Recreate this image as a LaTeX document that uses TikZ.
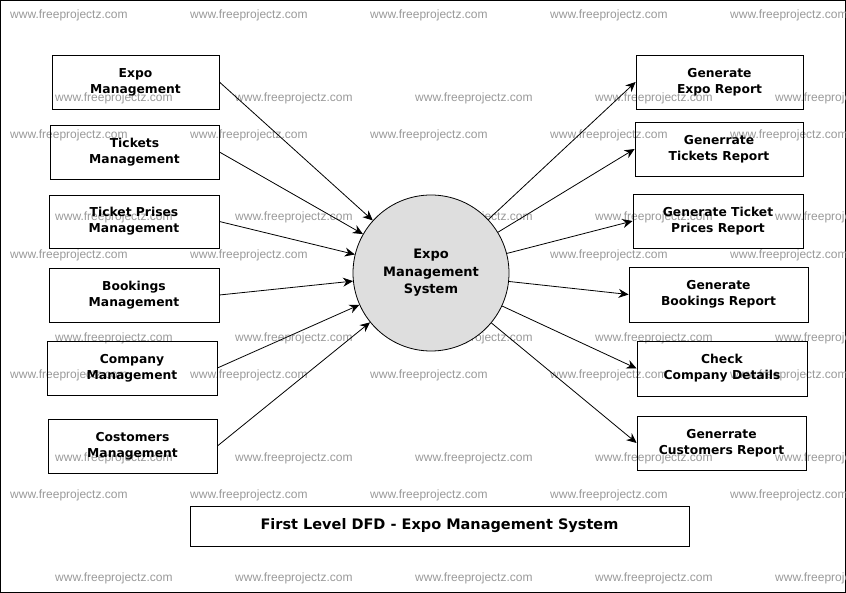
\documentclass[tikz,border=0pt]{standalone}
\usepackage{fontspec}
\usetikzlibrary{arrows.meta}
\setmainfont{DejaVu Sans}
\newfontfamily\wmfont{Liberation Sans}
\begin{document}
\begin{tikzpicture}[x=1pt,y=-1pt,
  box/.style={draw,thick,inner sep=0pt,align=center,font=\bfseries\fontsize{12.3}{16}\selectfont},
  arr/.style={draw,thick,-{Stealth[length=10pt,width=9pt]}},
  wm/.style={anchor=west,text=black!40,font=\wmfont\fontsize{12}{14}\selectfont,inner sep=0pt}]
\draw[thick] (0.5,0.5) rectangle (845.5,592.5);
\useasboundingbox (0,0) rectangle (846,593);
% watermarks
\foreach \y [count=\i] in {15,98,135,217,255,338,375,458,495,578}{
  \pgfmathsetmacro{\off}{mod(\i,2)==1 ? 10 : 55}
  \foreach \k in {0,1,2,3,4}{
    \node[wm] at ({\off+180*\k},\y) {www.freeprojectz.com};
  }
}
\newcommand{\bx}[6]{\node[box,minimum width={#4-#2},minimum height={#5-#3}] (#1) at ({(#2+#4)/2},{(#3+#5)/2}) {#6};}
\bx{l1}{52}{55}{219}{109}{Expo\\Management}
\bx{l2}{50}{125}{219}{179}{Tickets\\Management}
\bx{l3}{49}{195}{219}{248}{Ticket Prises\\Management}
\bx{l4}{49}{268}{219}{322}{Bookings\\Management}
\bx{l5}{47}{341}{217}{395}{Company\\Management}
\bx{l6}{48}{419}{217}{473}{Costomers\\Management}
\bx{r1}{636}{55}{803}{109}{Generate\\Expo Report}
\bx{r2}{635}{122}{803}{176}{Generrate\\Tickets Report}
\bx{r3}{633}{194}{803}{248}{Generate Ticket\\Prices Report}
\bx{r4}{629}{267}{808}{322}{Generate\\Bookings Report}
\bx{r5}{637}{341}{807}{396}{Check\\Company Details}
\bx{r6}{637}{416}{806}{470}{Generrate\\Customers Report}
\bx{t}{190}{506}{689}{546}{\fontsize{14.5}{17}\selectfont First Level DFD - Expo Management System}
\node[circle,draw,thick,fill=black!13,minimum size=156pt,align=center,
  font=\bfseries\fontsize{13}{17.5}\selectfont] (c) at (431,273) {Expo\\Management\\System};
\foreach \n in {l1,l2,l3,l4,l5,l6} \draw[arr] (\n.east) -- (c);
\foreach \n in {r1,r2,r3,r4,r5,r6} \draw[arr] (c) -- (\n.west);
\end{tikzpicture}
\end{document}
